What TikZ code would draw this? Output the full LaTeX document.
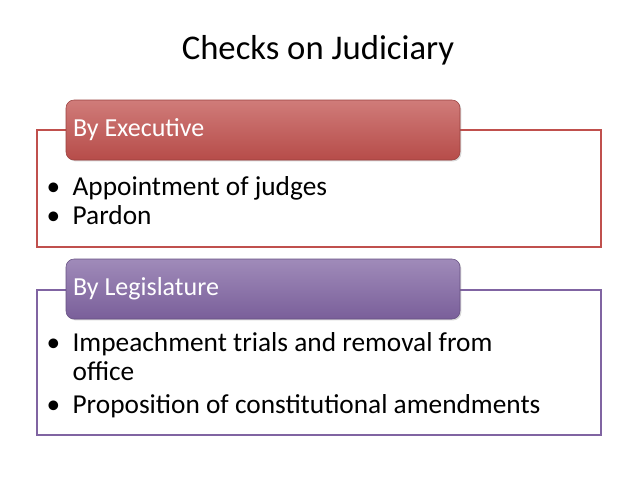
\documentclass[tikz,border=0pt]{standalone}
\usepackage{fontspec}
\setmainfont{Carlito}
\usetikzlibrary{positioning,shadows}
\definecolor{exred}{HTML}{C0504D}
\definecolor{legpurple}{HTML}{8064A2}
\newcommand{\bul}{\textbullet\hspace{0.45em}}
\tikzset{
  outerbox/.style={line width=1pt, fill=white},
  headbox/.style={rounded corners=6pt, minimum width=394*0.75pt, minimum height=60*0.75pt,
      text width=380*0.75pt, align=flush left, text=white, font=\fontsize{19.5}{23}\selectfont,
      drop shadow={opacity=0.3, shadow xshift=1pt, shadow yshift=-1pt}},
  bullets/.style={anchor=north west, align=flush left, text width=560*0.75pt,
      font=\fontsize{20.5}{21.5}\selectfont},
}
\begin{document}
\begin{tikzpicture}[x=0.75pt,y=-0.75pt]
  \useasboundingbox (0,0) rectangle (638,479);
  \node (title) at (318,50) {\fontsize{26}{30}\selectfont Checks on Judiciary};

  % executive
  \draw[outerbox, draw=exred] (37,130) rectangle (601,247);
  \node[headbox, top color=exred!75, bottom color=exred!95!black, draw=exred!80!black] (exec) at (263,130) {By Executive};
  \node[bullets] (execlist) at (42,172) {\bul Appointment of judges\\ \bul Pardon};

  % legislature
  \draw[outerbox, draw=legpurple] (37,290) rectangle (601,435);
  \node[headbox, top color=legpurple!75, bottom color=legpurple!95!black, draw=legpurple!80!black] (leg) at (263,289) {By Legislature};
  \node[bullets] (leglist) at (42,328) {\bul Impeachment trials and removal from\\ \hphantom{\bul}office\\[3pt] \bul Proposition of constitutional amendments};
\end{tikzpicture}
\end{document}
